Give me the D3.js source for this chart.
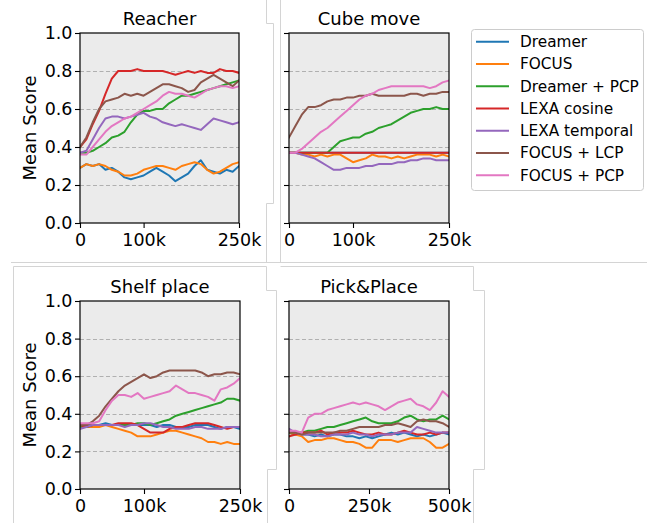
<!DOCTYPE html>
<html><head><meta charset="utf-8">
<script src="https://cdn.jsdelivr.net/npm/d3@7"></script>
<style>
html,body{margin:0;padding:0;background:#fff;}
svg{display:block;font-family:"DejaVu Sans",sans-serif;}
</style></head>
<body>
<svg id="chart" width="664" height="523"></svg>
<script>
// ---------- data ----------
const seriesNames = ["Dreamer","FOCUS","Dreamer + PCP","LEXA cosine","LEXA temporal","FOCUS + LCP","FOCUS + PCP"];
const seriesColors = ["#1f77b4","#ff7f0e","#2ca02c","#d62728","#9467bd","#8c564b","#e377c2"];
const panelTitles = ["Reacher","Cube move","Shelf place","Pick&Place"];
const steps250k = d3.range(0, 250001, 10000);
const steps500k = d3.range(0, 500001, 20000);
const xTicks250k = [0, 100000, 250000];
const xTicks500k = [0, 250000, 500000];
const yTicks = [0, 0.2, 0.4, 0.6, 0.8, 1.0];
const gridTicks = [0.2, 0.4, 0.6, 0.8];

// Reacher
const reacherDreamer   = [0.29,0.31,0.30,0.31,0.28,0.29,0.27,0.24,0.23,0.24,0.25,0.27,0.29,0.27,0.25,0.22,0.24,0.26,0.30,0.33,0.28,0.27,0.26,0.28,0.27,0.30];
const reacherFocus     = [0.29,0.31,0.30,0.31,0.30,0.28,0.27,0.25,0.25,0.26,0.28,0.29,0.30,0.30,0.29,0.28,0.30,0.31,0.32,0.31,0.28,0.26,0.27,0.29,0.31,0.32];
const reacherDreamerPcp= [0.37,0.37,0.38,0.40,0.42,0.45,0.46,0.48,0.53,0.57,0.59,0.59,0.60,0.60,0.63,0.65,0.67,0.67,0.68,0.69,0.70,0.71,0.72,0.73,0.74,0.75];
const reacherLexaCos   = [0.40,0.44,0.52,0.59,0.68,0.76,0.80,0.80,0.80,0.81,0.80,0.80,0.80,0.80,0.79,0.78,0.79,0.80,0.79,0.80,0.79,0.79,0.81,0.80,0.80,0.79];
const reacherLexaTemp  = [0.37,0.38,0.44,0.50,0.55,0.56,0.56,0.55,0.56,0.57,0.58,0.56,0.55,0.53,0.52,0.51,0.52,0.51,0.50,0.49,0.52,0.55,0.54,0.53,0.52,0.53];
const reacherFocusLcp  = [0.40,0.45,0.53,0.60,0.64,0.65,0.66,0.68,0.67,0.68,0.67,0.69,0.71,0.73,0.73,0.72,0.71,0.69,0.70,0.74,0.76,0.78,0.76,0.74,0.72,0.75];
const reacherFocusPcp  = [0.36,0.36,0.40,0.44,0.48,0.51,0.53,0.55,0.56,0.58,0.60,0.62,0.64,0.67,0.69,0.68,0.68,0.67,0.66,0.68,0.70,0.71,0.72,0.72,0.71,0.72];

// Cube move
const cubeDreamer   = [0.37,0.37,0.37,0.37,0.37,0.37,0.37,0.37,0.37,0.37,0.37,0.37,0.37,0.37,0.37,0.37,0.37,0.37,0.37,0.37,0.37,0.37,0.37,0.37,0.37,0.37];
const cubeFocus     = [0.37,0.37,0.36,0.36,0.35,0.36,0.35,0.36,0.36,0.34,0.32,0.33,0.34,0.36,0.35,0.35,0.34,0.35,0.34,0.35,0.36,0.36,0.36,0.35,0.36,0.35];
const cubeDreamerPcp= [0.37,0.37,0.37,0.37,0.37,0.37,0.37,0.40,0.43,0.44,0.45,0.45,0.47,0.48,0.50,0.51,0.52,0.54,0.56,0.58,0.59,0.60,0.60,0.61,0.60,0.60];
const cubeLexaCos   = [0.37,0.37,0.37,0.37,0.37,0.37,0.37,0.37,0.37,0.37,0.37,0.37,0.37,0.37,0.37,0.37,0.37,0.37,0.37,0.37,0.37,0.37,0.37,0.37,0.37,0.37];
const cubeLexaTemp  = [0.37,0.37,0.36,0.35,0.34,0.32,0.30,0.28,0.28,0.29,0.29,0.29,0.30,0.30,0.31,0.31,0.31,0.32,0.32,0.33,0.33,0.34,0.34,0.33,0.33,0.33];
const cubeFocusLcp  = [0.45,0.51,0.57,0.61,0.61,0.62,0.64,0.65,0.65,0.66,0.66,0.67,0.67,0.68,0.67,0.67,0.67,0.67,0.67,0.68,0.68,0.67,0.68,0.68,0.69,0.69];
const cubeFocusPcp  = [0.37,0.37,0.39,0.42,0.45,0.48,0.50,0.53,0.56,0.59,0.62,0.65,0.67,0.68,0.70,0.71,0.72,0.72,0.72,0.72,0.72,0.72,0.71,0.72,0.74,0.75];

// Shelf place
const shelfDreamer   = [0.33,0.34,0.34,0.34,0.35,0.34,0.34,0.34,0.34,0.34,0.34,0.34,0.33,0.34,0.34,0.33,0.33,0.33,0.34,0.34,0.34,0.33,0.32,0.33,0.33,0.32];
const shelfFocus     = [0.33,0.33,0.33,0.33,0.34,0.33,0.32,0.31,0.30,0.28,0.28,0.28,0.29,0.30,0.31,0.31,0.30,0.29,0.28,0.27,0.25,0.25,0.24,0.25,0.24,0.24];
const shelfDreamerPcp= [0.33,0.33,0.34,0.34,0.34,0.34,0.34,0.34,0.34,0.35,0.35,0.34,0.35,0.36,0.37,0.39,0.40,0.41,0.42,0.43,0.44,0.45,0.46,0.48,0.48,0.47];
const shelfLexaCos   = [0.34,0.33,0.34,0.34,0.34,0.34,0.35,0.35,0.35,0.34,0.32,0.30,0.30,0.30,0.32,0.33,0.33,0.34,0.35,0.35,0.35,0.34,0.33,0.32,0.33,0.33];
const shelfLexaTemp  = [0.32,0.33,0.34,0.34,0.34,0.34,0.34,0.33,0.34,0.34,0.35,0.35,0.34,0.33,0.33,0.32,0.32,0.32,0.33,0.33,0.32,0.32,0.32,0.33,0.33,0.33];
const shelfFocusLcp  = [0.34,0.34,0.36,0.39,0.44,0.48,0.52,0.55,0.57,0.59,0.61,0.59,0.60,0.62,0.63,0.63,0.63,0.63,0.63,0.62,0.60,0.61,0.61,0.62,0.62,0.61];
const shelfFocusPcp  = [0.35,0.35,0.35,0.36,0.42,0.47,0.50,0.50,0.49,0.51,0.48,0.49,0.50,0.51,0.52,0.55,0.53,0.51,0.51,0.50,0.49,0.47,0.53,0.54,0.56,0.59];

// Pick&Place
const pickDreamer   = [0.30,0.29,0.29,0.29,0.28,0.29,0.28,0.29,0.29,0.28,0.28,0.27,0.28,0.27,0.28,0.29,0.30,0.29,0.30,0.29,0.28,0.29,0.28,0.29,0.30,0.29];
const pickFocus     = [0.30,0.29,0.28,0.25,0.26,0.26,0.27,0.27,0.26,0.25,0.25,0.24,0.22,0.22,0.26,0.26,0.26,0.25,0.26,0.27,0.27,0.27,0.25,0.22,0.22,0.24];
const pickDreamerPcp= [0.30,0.30,0.30,0.31,0.31,0.32,0.33,0.33,0.34,0.35,0.36,0.37,0.38,0.36,0.35,0.35,0.35,0.36,0.38,0.39,0.37,0.36,0.37,0.37,0.39,0.37];
const pickLexaCos   = [0.28,0.29,0.30,0.30,0.30,0.31,0.29,0.30,0.30,0.30,0.31,0.30,0.29,0.29,0.30,0.29,0.29,0.30,0.31,0.30,0.29,0.29,0.30,0.29,0.30,0.30];
const pickLexaTemp  = [0.32,0.30,0.29,0.29,0.29,0.28,0.28,0.29,0.29,0.29,0.30,0.29,0.29,0.28,0.29,0.29,0.29,0.30,0.30,0.30,0.33,0.32,0.31,0.30,0.30,0.30];
const pickFocusLcp  = [0.30,0.30,0.29,0.30,0.30,0.30,0.30,0.30,0.31,0.31,0.32,0.33,0.33,0.33,0.33,0.34,0.34,0.35,0.34,0.33,0.36,0.37,0.36,0.36,0.35,0.33];
const pickFocusPcp  = [0.31,0.31,0.30,0.38,0.40,0.40,0.42,0.43,0.44,0.45,0.46,0.45,0.46,0.45,0.44,0.42,0.44,0.46,0.47,0.48,0.45,0.44,0.42,0.46,0.52,0.49];

// ---------- build ----------
const panels = [
  {title: panelTitles[0], steps: steps250k, xMax: 250000, xTicks: xTicks250k, yLabels: true,
   series: [reacherDreamer, reacherFocus, reacherDreamerPcp, reacherLexaCos, reacherLexaTemp, reacherFocusLcp, reacherFocusPcp],
   box: {x0: 80, x1: 239, y0: 33, y1: 223}},
  {title: panelTitles[1], steps: steps250k, xMax: 250000, xTicks: xTicks250k, yLabels: false,
   series: [cubeDreamer, cubeFocus, cubeDreamerPcp, cubeLexaCos, cubeLexaTemp, cubeFocusLcp, cubeFocusPcp],
   box: {x0: 289, x1: 449, y0: 33, y1: 223}},
  {title: panelTitles[2], steps: steps250k, xMax: 250000, xTicks: xTicks250k, yLabels: true,
   series: [shelfDreamer, shelfFocus, shelfDreamerPcp, shelfLexaCos, shelfLexaTemp, shelfFocusLcp, shelfFocusPcp],
   box: {x0: 80, x1: 240, y0: 301, y1: 489}},
  {title: panelTitles[3], steps: steps500k, xMax: 500000, xTicks: xTicks500k, yLabels: false,
   series: [pickDreamer, pickFocus, pickDreamerPcp, pickLexaCos, pickLexaTemp, pickFocusLcp, pickFocusPcp],
   box: {x0: 289, x1: 449, y0: 301, y1: 489}}
];

const svg = d3.select("#chart");

// faint frame artifacts from the source composite
const frameLines = [
  [[266.5,0],[266.5,23.5],[273.5,23.5],[273.5,203.5],[266.5,203.5],[266.5,262]],
  [[280.5,0],[280.5,262]],
  [[11,262.5],[647,262.5]],
  [[13.5,523],[13.5,266.5],[266.5,266.5],[266.5,290.5],[276.5,290.5],[276.5,469.5],[267.5,469.5],[267.5,523]],
  [[280.5,266.5],[473.5,266.5],[473.5,290.5],[484.5,290.5],[484.5,469.5],[473.5,469.5],[473.5,523]]
];
svg.append("g").selectAll("path").data(frameLines).join("path")
  .attr("d", d3.line()).attr("fill","none").attr("stroke","#d4d4d4").attr("stroke-width",1);

const fmtX = v => v === 0 ? "0" : (v/1000) + "k";

panels.forEach(p => {
  const b = p.box;
  const x = d3.scaleLinear().domain([0, p.xMax]).range([b.x0, b.x1]);
  const y = d3.scaleLinear().domain([0, 1]).range([b.y1, b.y0]);
  const g = svg.append("g");

  g.append("rect").attr("x", b.x0).attr("y", b.y0)
    .attr("width", b.x1 - b.x0).attr("height", b.y1 - b.y0).attr("fill", "#ebebeb");

  g.append("g").selectAll("line").data(gridTicks).join("line")
    .attr("x1", b.x0).attr("x2", b.x1)
    .attr("y1", d => Math.round(y(d)) + 0.5).attr("y2", d => Math.round(y(d)) + 0.5)
    .attr("stroke", "#b0b0b0").attr("stroke-width", 1).attr("stroke-dasharray", "4,2.5");

  const clipId = "clip" + p.title.replace(/[^A-Za-z]/g, "");
  g.append("clipPath").attr("id", clipId).append("rect")
    .attr("x", b.x0).attr("y", b.y0).attr("width", b.x1 - b.x0).attr("height", b.y1 - b.y0);

  const line = d3.line().x((d, i) => x(p.steps[i])).y(d => y(d)).curve(d3.curveLinear);
  g.append("g").attr("clip-path", `url(#${clipId})`)
    .selectAll("path").data(p.series).join("path")
    .attr("d", d => line(d)).attr("fill", "none")
    .attr("stroke", (d, i) => seriesColors[i]).attr("stroke-width", 2)
    .attr("stroke-linejoin", "round").attr("stroke-linecap", "square");

  // axes
  const yAxis = d3.axisLeft(y).tickValues(yTicks).tickSize(5).tickPadding(2.5)
    .tickFormat(p.yLabels ? d3.format(".1f") : () => "");
  const ya = g.append("g").attr("transform", `translate(${b.x0},0)`).call(yAxis);
  const xAxis = d3.axisBottom(x).tickValues(p.xTicks).tickSize(5).tickFormat(fmtX);
  const xa = g.append("g").attr("transform", `translate(0,${b.y1})`).call(xAxis);
  [ya, xa].forEach(a => {
    a.select(".domain").remove();
    a.selectAll(".tick line").attr("stroke", "#000").attr("stroke-width", 1.1);
    a.selectAll("text").attr("fill", "#000").attr("font-size", "17.5px")
      .attr("font-family", "DejaVu Sans, sans-serif");
  });
  xa.selectAll("text").attr("y", 23).attr("dy", 0);

  g.append("rect").attr("x", b.x0).attr("y", b.y0)
    .attr("width", b.x1 - b.x0).attr("height", b.y1 - b.y0)
    .attr("fill", "none").attr("stroke", "#000").attr("stroke-width", 1.2);

  g.append("text").attr("x", (b.x0 + b.x1) / 2).attr("y", b.y0 - 8)
    .attr("text-anchor", "middle").attr("font-size", "18px").attr("fill", "#000")
    .text(p.title);

  if (p.yLabels) {
    g.append("text").attr("transform", `translate(36,${(b.y0 + b.y1) / 2}) rotate(-90)`)
      .attr("text-anchor", "middle").attr("font-size", "18px").attr("fill", "#000")
      .text("Mean Score");
  }
});

// legend
const leg = svg.append("g");
leg.append("rect").attr("x", 471.5).attr("y", 29.5).attr("width", 172).attr("height", 161)
  .attr("rx", 3).attr("fill", "#fff").attr("stroke", "#cccccc").attr("stroke-width", 1);
const rowY = d3.scaleLinear().domain([0, seriesNames.length - 1]).range([41.7, 175.3]);
const rows = leg.selectAll("g.row").data(seriesNames).join("g").attr("class", "row")
  .attr("transform", (d, i) => `translate(0,${rowY(i)})`);
rows.append("line").attr("x1", 476).attr("x2", 509).attr("y1", 0).attr("y2", 0)
  .attr("stroke", (d, i) => seriesColors[i]).attr("stroke-width", 2);
rows.append("text").attr("x", 520).attr("y", 0).attr("dy", "0.35em")
  .attr("font-size", "15.3px").attr("fill", "#000").text(d => d);
</script>
</body></html>
